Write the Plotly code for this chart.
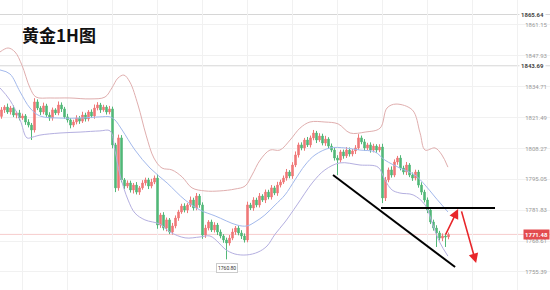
import plotly.graph_objects as go

# ---------------- data ----------------
closes = [
1824.8,1826.0,1823.9,1825.6,1822.6,1823.5,1821.3,1822.2,1819.6,1818.3,
1816.2,1828.2,1825.6,1823.9,1826.5,1822.6,1821.3,1824.8,1823.5,1826.9,
1825.2,1821.8,1820.5,1818.3,1819.6,1821.3,1820.0,1822.6,1820.9,1823.9,
1822.2,1825.6,1826.9,1824.8,1826.0,1823.9,1825.2,1809.8,1791.4,1812.8,
1794.8,1792.2,1793.5,1790.5,1792.6,1789.6,1791.4,1793.5,1794.8,1792.2,
1793.9,1795.6,1775.5,1779.8,1774.2,1777.7,1772.5,1775.1,1778.5,1781.1,
1783.6,1781.9,1784.1,1786.2,1782.8,1787.9,1784.1,1771.2,1774.2,1776.8,
1773.4,1775.5,1772.5,1770.8,1769.1,1767.8,1769.9,1772.5,1774.2,1772.1,
1770.8,1769.1,1784.1,1782.8,1786.2,1784.1,1787.9,1786.2,1789.6,1787.5,
1791.4,1789.2,1792.6,1793.9,1795.6,1798.2,1796.5,1801.2,1805.5,1809.8,
1808.5,1811.9,1809.8,1812.8,1814.9,1811.9,1813.6,1810.6,1812.3,1809.3,
1807.6,1804.2,1803.3,1806.8,1805.1,1807.6,1805.9,1807.2,1808.5,1812.8,
1811.1,1808.5,1809.8,1807.6,1809.3,1807.6,1808.9,1787.1,1794.8,1799.1,
1796.9,1802.5,1804.2,1799.9,1798.2,1801.2,1796.9,1795.6,1798.2,1792.6,
1789.6,1786.2,1781.9,1776.8,1774.2,1772.1,1769.9,1770.8,1770.4,1771.48,
]
opens = [
1822.0,1824.8,1826.0,1823.9,1825.6,1822.6,1823.5,1821.3,1822.2,1819.6,
1818.3,1816.2,1828.2,1825.6,1823.9,1826.5,1822.6,1821.3,1824.8,1823.5,
1826.9,1825.2,1821.8,1820.5,1818.3,1819.6,1821.3,1820.0,1822.6,1820.9,
1823.9,1822.2,1825.6,1826.9,1824.8,1826.0,1823.9,1825.2,1809.8,1791.4,
1812.8,1794.8,1792.2,1793.5,1790.5,1792.6,1789.6,1791.4,1793.5,1794.8,
1792.2,1793.9,1795.6,1775.5,1779.8,1774.2,1777.7,1772.5,1775.1,1778.5,
1781.1,1783.6,1781.9,1784.1,1786.2,1782.8,1787.9,1784.1,1771.2,1774.2,
1776.8,1773.4,1775.5,1772.5,1770.8,1769.1,1767.8,1769.9,1772.5,1774.2,
1772.1,1770.8,1769.1,1784.1,1782.8,1786.2,1784.1,1787.9,1786.2,1789.6,
1787.5,1791.4,1789.2,1792.6,1793.9,1795.6,1798.2,1796.5,1801.2,1805.5,
1809.8,1808.5,1811.9,1809.8,1812.8,1814.9,1811.9,1813.6,1810.6,1812.3,
1809.3,1807.6,1804.2,1803.3,1806.8,1805.1,1807.6,1805.9,1807.2,1808.5,
1812.8,1811.1,1808.5,1809.8,1807.6,1809.3,1807.6,1808.9,1787.1,1794.8,
1799.1,1796.9,1802.5,1804.2,1799.9,1798.2,1801.2,1796.9,1795.6,1798.2,
1792.6,1789.6,1786.2,1781.9,1776.8,1774.2,1772.1,1769.9,1770.8,1770.4,
]
upper_wick = [
1.2,0.8,1.5,0.9,1.1,0.7,1.3,1.0,0.8,1.2, 0.9,1.6,1.1,0.8,1.4,0.9,1.2,1.0,0.7,1.5,
1.1,0.9,1.3,0.8,1.0,1.2,0.9,1.4,1.0,0.8, 1.1,1.5,1.2,0.9,1.0,0.8,1.3,1.0,0.9,1.4,
1.2,0.8,1.1,1.0,0.9,1.3,0.8,1.2,1.0,0.9, 1.4,1.1,1.6,0.9,1.2,1.0,0.8,1.3,1.1,0.9,
1.0,1.2,0.8,1.5,1.0,1.3,0.9,1.1,1.4,0.8, 1.0,1.2,0.9,1.1,0.8,1.0,1.3,1.5,0.9,1.0,
1.2,1.1,1.4,0.9,1.2,1.0,1.3,0.8,1.1,1.0, 1.2,0.9,1.4,1.0,1.1,1.3,0.8,1.2,1.5,1.0,
1.1,0.9,1.3,1.0,1.3,0.9,1.2,1.0,1.4,0.8, 1.1,1.0,1.2,0.9,1.0,1.3,1.1,0.8,1.2,1.6,
1.0,1.2,0.9,1.1,1.0,0.8,1.2,1.4,1.3,1.0, 1.5,1.1,0.9,1.2,1.0,1.3,0.8,1.1,1.0,0.9,
1.2,1.0,1.1,0.8,1.0,1.2,0.9,1.1,1.0,0.8,
]
lower_wick = [
1.0,1.3,0.8,1.1,0.9,1.4,1.0,0.8,1.2,1.0, 4.3,1.1,0.9,1.3,1.0,0.8,1.2,1.1,0.9,1.0,
1.3,0.8,1.1,1.4,0.9,1.0,1.2,0.8,1.1,1.0, 0.9,1.2,1.0,1.3,0.8,1.1,1.0,1.5,1.8,1.2,
1.0,1.3,0.9,1.1,1.5,1.0,1.2,0.8,1.1,1.3, 1.0,0.9,1.6,1.2,1.0,1.4,0.9,1.1,1.0,1.2,
0.8,1.0,1.3,0.9,1.1,1.0,1.2,1.6,1.2,1.0, 0.9,1.1,1.3,1.0,1.2,7.0,1.1,0.9,1.2,1.0,
1.3,1.1,1.0,0.9,1.2,1.0,1.1,0.8,1.3,1.0, 1.1,0.9,1.2,1.0,0.8,1.1,1.0,1.2,0.9,1.1,
1.0,1.2,0.9,1.1,1.0,1.3,0.8,1.0,1.2,1.0, 0.9,1.1,6.4,1.0,1.2,0.9,1.1,1.0,1.3,0.8,
1.0,1.2,0.9,1.1,1.0,1.2,0.9,2.2,1.3,1.0, 1.1,0.9,1.2,1.0,1.1,1.3,0.9,1.2,1.0,1.1,
1.2,1.0,1.3,0.9,1.1,6.0,1.0,1.3,4.3,1.0,
]

# Bollinger-type band lines (bar index, price)
upper_x = [-0.5,2.2,4.5,6.8,9.5,11.5,16.2,22.8,29.5,34.5,36.8,38.8,40.8,42.8,45.5,48.2,50.8,53.5,56.8,60.2,
           63.5,67.8,72.8,77.8,81.2,83.5,86.2,89.5,92.8,96.2,99.5,102.8,107.8,112.2,116.2,121.2,126.2,128.5,131.5,
           137.0,139.5,141.2,144.5,146.8,148.8]
upper_y = [1849.6,1851.3,1849.6,1844.0,1834.2,1830.3,1829.9,1829.9,1829.5,1830.3,1834.2,1838.4,1839.7,1836.7,
           1826.9,1814.0,1804.2,1799.9,1799.1,1796.1,1791.4,1790.1,1790.1,1790.9,1792.2,1796.9,1803.3,1807.6,
           1807.6,1811.9,1817.0,1819.6,1819.6,1818.8,1814.9,1815.3,1817.0,1825.6,1827.3,1824.7,1815.0,1807.6,
           1808.5,1805.5,1800.3]
mid_x = [-0.5,2.8,6.2,9.5,12.8,19.5,26.2,32.8,36.2,37.8,40.2,44.5,49.5,55.2,61.2,66.2,71.2,78.5,81.8,84.5,
         87.8,91.2,94.5,97.8,101.2,104.5,109.5,114.5,119.5,124.5,127.8,132.8,137.8,141.2,144.5,148.8]
mid_y = [1841.9,1840.2,1832.5,1825.6,1822.2,1821.3,1821.3,1821.8,1821.8,1820.5,1816.2,1807.6,1799.9,1793.5,
         1786.2,1781.9,1779.4,1775.5,1775.1,1776.8,1779.8,1784.1,1788.4,1794.8,1801.2,1805.5,1808.5,1808.5,
         1807.6,1806.8,1803.3,1799.9,1796.9,1792.6,1787.5,1781.1]
lower_x = [-0.5,2.8,6.2,8.5,10.5,12.8,19.5,26.2,32.8,36.2,37.8,39.5,42.2,44.5,47.8,52.8,56.2,61.2,66.2,69.5,
           72.2,74.5,77.8,81.8,85.5,88.5,91.2,94.5,98.5,103.8,107.8,112.8,119.5,125.5,127.8,130.2,132.8,137.2,
           141.2,143.8,146.2,148.8]
lower_y = [1834.2,1829.0,1820.5,1812.8,1813.2,1814.0,1814.9,1815.3,1815.8,1815.8,1807.6,1796.9,1786.2,1780.6,
           1777.7,1775.9,1772.5,1770.0,1770.4,1770.8,1768.2,1765.2,1763.1,1762.7,1763.9,1766.5,1771.6,1776.8,
           1784.1,1793.9,1799.1,1802.1,1801.2,1800.3,1794.8,1790.5,1789.2,1788.4,1784.1,1775.5,1767.8,1762.2]

tick_vals = [1861.15,1847.93,1834.71,1821.49,1808.27,1795.05,1781.83,1768.61,1755.39]
marked_levels = [1865.64, 1843.69]
last_price = 1771.48

# drawn analysis lines (bar index, price)
trend_line = [(110.5, 1796.9), (151.2, 1757.5)]
resist_line = [(126.5, 1782.8), (164.5, 1782.8)]
arrow_up = [(147.8, 1770.8), (152.2, 1782.4)]
arrow_down = [(153.2, 1782.0), (158.2, 1759.2)]

# ---------------- figure ----------------
n = len(closes)
xs = list(range(n))
highs = [max(o, c) + u for o, c, u in zip(opens, closes, upper_wick)]
lows = [min(o, c) - l for o, c, l in zip(opens, closes, lower_wick)]

fig = go.Figure()
fig.add_trace(go.Scatter(x=upper_x, y=upper_y, mode="lines", line=dict(color="#e0aeae", width=1, shape="spline"),
                         hoverinfo="skip"))
fig.add_trace(go.Scatter(x=mid_x, y=mid_y, mode="lines", line=dict(color="#a3b9ec", width=1, shape="spline"),
                         hoverinfo="skip"))
fig.add_trace(go.Scatter(x=lower_x, y=lower_y, mode="lines", line=dict(color="#b4afe0", width=1, shape="spline"),
                         hoverinfo="skip"))
fig.add_trace(go.Candlestick(
    x=xs, open=opens, high=highs, low=lows, close=closes,
    increasing=dict(line=dict(color="#ef7878", width=1), fillcolor="#ef7878"),
    decreasing=dict(line=dict(color="#52b878", width=1), fillcolor="#52b878"),
    whiskerwidth=0,
))

shapes = []
for lv in marked_levels:
    shapes.append(dict(type="line", xref="paper", x0=0, x1=1, yref="y", y0=lv, y1=lv,
                       line=dict(color="#d6d6d6", width=1), layer="below"))
shapes.append(dict(type="line", xref="paper", x0=0, x1=1, yref="y", y0=last_price, y1=last_price,
                   line=dict(color="rgba(230,90,90,0.3)", width=1), layer="below"))
for (a, b), w in [(trend_line, 2), (resist_line, 2)]:
    shapes.append(dict(type="line", xref="x", yref="y", x0=a[0], y0=a[1], x1=b[0], y1=b[1],
                       line=dict(color="#000000", width=w)))

annotations = [
    dict(text="<b>黄金1H图</b>", xref="paper", yref="paper", x=20 / 550, y=1 - 34.5 / 290,
         xanchor="left", yanchor="middle", showarrow=False,
         font=dict(family="Noto Sans CJK SC", size=17, color="#111111")),
]
for a, b in [arrow_up, arrow_down]:
    annotations.append(dict(x=b[0], y=b[1], ax=a[0], ay=a[1], xref="x", yref="y", axref="x", ayref="y",
                            text="", showarrow=True, arrowhead=2, arrowsize=1.2, arrowwidth=1.6,
                            arrowcolor="#e8262a"))
for lv in marked_levels:
    annotations.append(dict(text="<b>%.2f</b>" % lv, xref="paper", yref="y", x=1, y=lv, xanchor="right",
                            xshift=-4, showarrow=False, bgcolor="#ffffff",
                            font=dict(family="Roboto", size=6, color="#444444")))
annotations.append(dict(text="<b>%.2f</b>" % last_price, xref="paper", yref="y", x=1, y=last_price,
                        xanchor="right", showarrow=False, bgcolor="#e34b4f", borderpad=1,
                        font=dict(family="Roboto", size=6, color="#ffffff")))
low_i = min(range(n), key=lambda i: lows[i])
annotations.append(dict(text="%.2f" % lows[low_i], x=low_i, y=lows[low_i], xref="x", yref="y",
                        yshift=-9, showarrow=False, bgcolor="#ffffff", bordercolor="#cccccc",
                        borderwidth=1, borderpad=1, font=dict(family="Roboto", size=5, color="#333333")))

fig.update_layout(
    width=550, height=290, margin=dict(l=0, r=0, t=0, b=0),
    paper_bgcolor="#ffffff", plot_bgcolor="#ffffff",
    showlegend=False, shapes=shapes, annotations=annotations,
    xaxis=dict(range=[-0.5, 182.83], rangeslider=dict(visible=False), showticklabels=False,
               tickvals=[7, 22, 37, 52, 67, 82, 97, 112, 127, 142, 157, 172],
               showgrid=True, gridcolor="#f1f1f1", zeroline=False, showline=False, ticks=""),
    yaxis=dict(range=[1747.68, 1871.85], side="right", tickvals=tick_vals,
               ticktext=["%.2f" % v for v in tick_vals], ticklabelposition="inside",
               tickfont=dict(family="Roboto", size=6, color="#9a9a9a"),
               showgrid=True, gridcolor="#f1f1f1", zeroline=False, showline=False, ticks=""),
)

fig.write_html("out.html")
